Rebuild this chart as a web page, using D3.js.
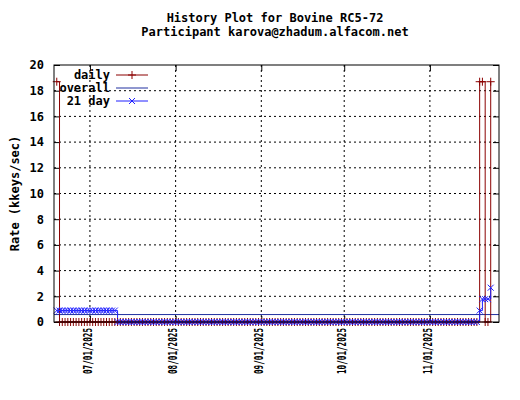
<!DOCTYPE html>
<html><head><meta charset="utf-8">
<script src="https://cdn.jsdelivr.net/npm/d3@7/dist/d3.min.js"></script>
<style>body{margin:0;background:#fff}text{font-family:"DejaVu Sans Mono",monospace;font-weight:bold;font-size:12px}</style>
</head><body><div id="chart"></div>
<script>
// range of days shown, daily rate is 0 except the listed days
var firstDay = "2025-06-19", lastDay = "2025-11-23";
var dailyPeaks = [["2025-06-19", 18.7], ["2025-11-19", 18.7], ["2025-11-20", 18.7], ["2025-11-23", 18.7]];
var overall = 0.58;
// 21 day average, 0 outside these spans
var avgSpans = [["2025-06-19", "2025-07-10", 0.89], ["2025-11-19", "2025-11-19", 0.89],
  ["2025-11-20", "2025-11-22", 1.78], ["2025-11-23", "2025-11-23", 2.67]];
var yTicks = [0, 2, 4, 6, 8, 10, 12, 14, 16, 18, 20];
var xTicks = ["2025-07-01", "2025-08-01", "2025-09-01", "2025-10-01", "2025-11-01"];

var W = 520, H = 400, m = {top: 65, right: 21, bottom: 78, left: 54};
var iw = W - m.left - m.right, ih = H - m.top - m.bottom;
var p = d3.utcParse("%Y-%m-%d");
var svg = d3.select("#chart").append("svg").attr("width", W).attr("height", H);
var g = svg.append("g").attr("transform", "translate(" + m.left + "," + m.top + ")");

var x = d3.scaleUtc().domain([p("2025-06-18"), p("2025-11-26")]).range([0, iw]);
var y = d3.scaleLinear().domain([0, 20]).range([ih, 0]);

var days = d3.utcDay.range(p(firstDay), d3.utcDay.offset(p(lastDay), 1));
var peak = new Map(dailyPeaks.map(function (d) { return [+p(d[0]), d[1]]; }));
var daily = days.map(function (d) { return {d: d, v: peak.get(+d) || 0}; });
var avg = days.map(function (d) {
  var s = avgSpans.find(function (a) { return d >= p(a[0]) && d <= p(a[1]); });
  return {d: d, v: s ? s[2] : 0};
});

// grid
g.selectAll(".gy").data(yTicks.slice(1, -1)).enter().append("line")
  .attr("x1", 0).attr("x2", iw).attr("y1", y).attr("y2", y)
  .attr("stroke", "#000").attr("stroke-dasharray", "2,3");
g.selectAll(".gx").data(xTicks).enter().append("line")
  .attr("x1", function (d) { return x(p(d)); }).attr("x2", function (d) { return x(p(d)); })
  .attr("y1", 0).attr("y2", ih).attr("stroke", "#000").attr("stroke-dasharray", "2,3");

g.append("g").attr("transform", "translate(0," + ih + ")")
  .call(d3.axisBottom(x).tickValues(xTicks.map(p)).tickFormat(d3.utcFormat("%m/%d/%Y")).tickSize(-6))
  .selectAll("text").attr("transform", "rotate(-90)").attr("text-anchor", "end")
  .attr("x", -6).attr("y", -3).attr("dy", "0.35em")
  .attr("textLength", 46).attr("lengthAdjust", "spacingAndGlyphs");
g.append("g").call(d3.axisTop(x).tickValues(xTicks.map(p)).tickFormat("").tickSize(-6));
g.append("g").call(d3.axisLeft(y).tickValues(yTicks).tickSize(-6).tickPadding(10));
g.append("g").attr("transform", "translate(" + iw + ",0)").call(d3.axisRight(y).tickValues(yTicks).tickFormat("").tickSize(-6));
g.selectAll(".domain").remove();
g.selectAll(".tick line").attr("stroke", "#000");
g.selectAll(".tick text").attr("fill", "#000").style("font-size", "12px");

var red = "#8b0000", blue = "#2020ff", navy = "#2030a0";
g.append("line").attr("x1", 0).attr("x2", iw).attr("y1", y(overall)).attr("y2", y(overall)).attr("stroke", navy);
var ln = d3.line().x(function (d) { return x(d.d); }).y(function (d) { return y(d.v); }).curve(d3.curveStepAfter);
g.append("path").datum(daily).attr("d", ln).attr("fill", "none").attr("stroke", red);
g.append("path").datum(avg).attr("d", ln).attr("fill", "none").attr("stroke", blue);
var plus = "M-4,0H4M0,-4V4", cross = "M-3,-3L3,3M-3,3L3,-3";
g.selectAll(".pd").data(daily).enter().append("path").attr("d", plus)
  .attr("transform", function (d) { return "translate(" + x(d.d) + "," + y(d.v) + ")"; }).attr("stroke", red);
g.selectAll(".pa").data(avg).enter().append("path").attr("d", cross)
  .attr("transform", function (d) { return "translate(" + x(d.d) + "," + y(d.v) + ")"; }).attr("stroke", blue);

g.append("rect").attr("width", iw).attr("height", ih).attr("fill", "none").attr("stroke", "#000");

// legend
var leg = [["daily", red, plus], ["overall", navy, null], ["21 day", blue, cross]];
leg.forEach(function (l, i) {
  var ly = 10 + i * 13;
  g.append("text").attr("x", 56).attr("y", ly).attr("dy", "0.35em").attr("text-anchor", "end").text(l[0]);
  g.append("line").attr("x1", 62).attr("x2", 94).attr("y1", ly).attr("y2", ly).attr("stroke", l[1]);
  if (l[2]) g.append("path").attr("d", l[2]).attr("transform", "translate(78," + ly + ")").attr("stroke", l[1]);
});

svg.append("text").attr("x", 275).attr("y", 22).attr("text-anchor", "middle").text("History Plot for Bovine RC5-72");
svg.append("text").attr("x", 275).attr("y", 36).attr("text-anchor", "middle").text("Participant karova@zhadum.alfacom.net");
svg.append("text").attr("transform", "translate(19," + (m.top + ih / 2) + ") rotate(-90)")
  .attr("text-anchor", "middle").text("Rate (kkeys/sec)");
</script></body></html>
